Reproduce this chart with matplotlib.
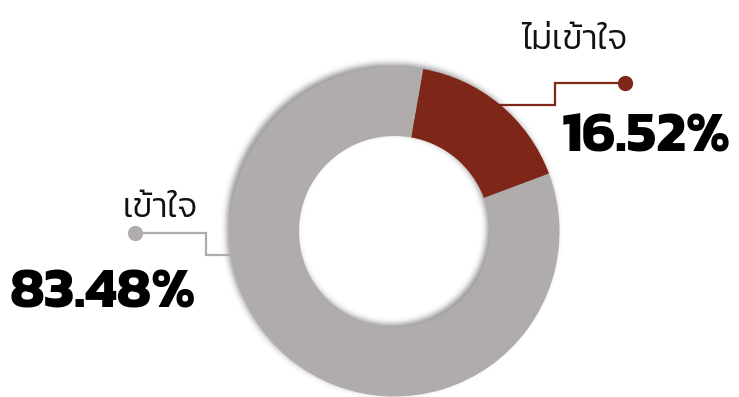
import numpy as np
import matplotlib
matplotlib.use("Agg")
import matplotlib.pyplot as plt
from matplotlib.path import Path

# Survey answers (percent)
labels = ["ไม่เข้าใจ", "เข้าใจ"]
shares = [16.52, 83.48]
colors = ["#7e2719", "#afacab"]

W, H = 739, 397
CX, CY = 394.5, H - 231.5     # ring centre (pixel-like data units, y up)
R_OUT, R_IN = 165.0, 95.5

fig = plt.figure(figsize=(W / 100, H / 100), dpi=100)
ax = fig.add_axes([0, 0, 1, 1])
ax.set_xlim(0, W)
ax.set_ylim(0, H)
ax.set_aspect("equal")
ax.axis("off")

# Soft drop shadow under the ring, shifted up-left and blurred
yy, xx = np.mgrid[0:H, 0:W] + 0.5
dx, dy = -3.0, 3.0
rr = np.hypot(xx - (CX + dx), yy - (CY + dy))
mask = ((rr <= R_OUT) & (rr >= R_IN)).astype(float)


def blur(a, sigma):
    k = np.arange(-int(3 * sigma), int(3 * sigma) + 1)
    g = np.exp(-k ** 2 / (2 * sigma ** 2))
    g /= g.sum()
    a = np.apply_along_axis(lambda v: np.convolve(v, g, mode="same"), 0, a)
    a = np.apply_along_axis(lambda v: np.convolve(v, g, mode="same"), 1, a)
    return a


sh = blur(mask, 3.0)
rgba = np.zeros((H, W, 4))
rgba[..., :3] = 0.25
rgba[..., 3] = sh * 0.55
ax.imshow(rgba, extent=(0, W, 0, H), origin="lower", zorder=1, interpolation="bilinear")

# Leader lines with end dots (drawn beneath the ring)
red_leader = [(625, 83), (555, 83), (555, 105), (470, 105)]
gray_leader = [(135, 233), (206, 233), (206, 255), (250, 255)]
for pts, c in ((red_leader, colors[0]), (gray_leader, colors[1])):
    xs = [p[0] for p in pts]
    ys = [H - p[1] for p in pts]
    ax.plot(xs, ys, color=c, lw=1.6, zorder=2, solid_joinstyle="miter")
    ax.plot(xs[0], ys[0], "o", color=c, ms=11, mec="none", zorder=2)

# Donut
ax.pie(shares, colors=colors, startangle=80, counterclock=False,
       center=(CX, CY), radius=R_OUT, frame=True,
       wedgeprops=dict(width=R_OUT - R_IN, edgecolor="none", zorder=3))
ax.set_xlim(0, W)
ax.set_ylim(0, H)
ax.axis("off")

thai = ["Kanit", "DejaVu Sans"]
ax.text(574, H - 49, labels[0], family=thai, fontweight=300, fontsize=25,
        ha="center", va="baseline", color="#111111", zorder=5)
ax.text(160, H - 217, labels[1], family=thai, fontweight=300, fontsize=25,
        ha="center", va="baseline", color="#111111", zorder=5)
ax.text(562, H - 152, f"{shares[0]:.2f}%", family=thai, fontweight="bold", fontsize=41,
        ha="left", va="baseline", color="black", zorder=5)
ax.text(10, H - 307, f"{shares[1]:.2f}%", family=thai, fontweight="bold", fontsize=41,
        ha="left", va="baseline", color="black", zorder=5)

fig.savefig("out.png", dpi=100, facecolor="white")
